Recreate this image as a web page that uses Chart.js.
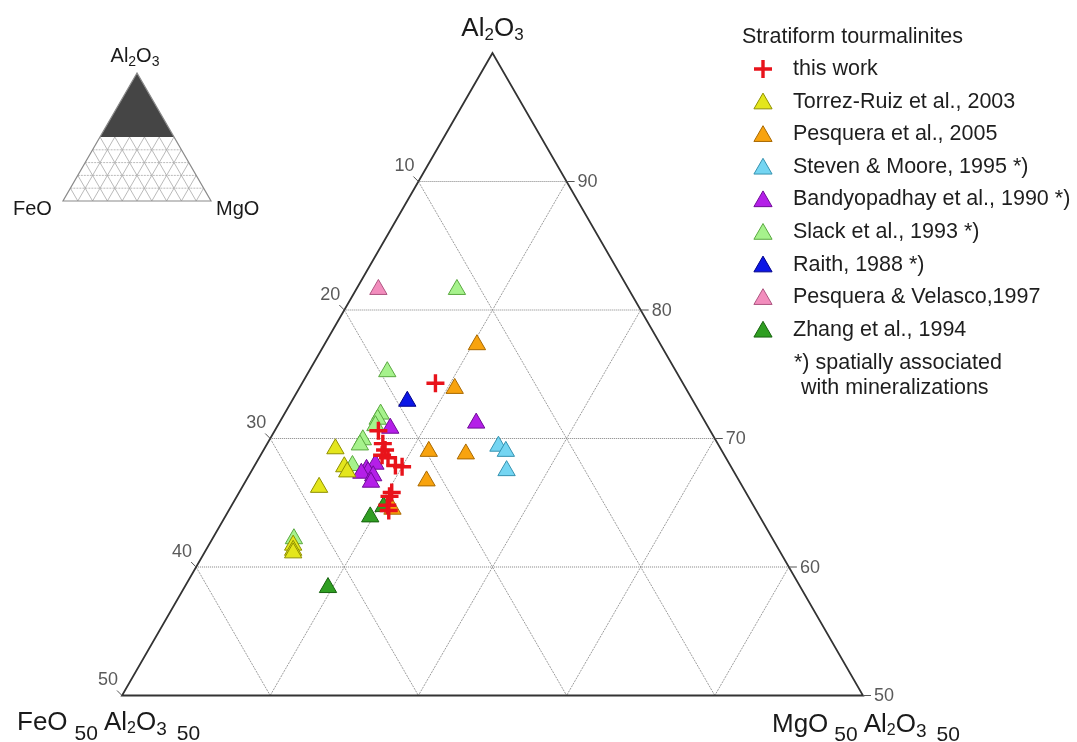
<!DOCTYPE html>
<html>
<head>
<meta charset="utf-8">
<script src="https://cdn.jsdelivr.net/npm/chart.js@4"></script>
<style>
  html, body { margin: 0; padding: 0; background: #fff; }
  canvas { display: block; }
</style>
</head>
<body>
<canvas id="myChart" width="1077" height="742"></canvas>
<script>
// compositions as [FeO, MgO, Al2O3]
const thisWork = [
  [16.7, 9.0, 74.3], [22.4, 7.0, 70.6], [22.6, 7.8, 69.6], [22.7, 8.2, 69.1],
  [23.1, 8.2, 68.7], [22.8, 8.7, 68.5], [22.6, 9.5, 67.9], [22.2, 10.0, 67.8],
  [23.9, 10.3, 65.8], [24.2, 10.3, 65.5], [24.7, 10.5, 64.8], [24.8, 10.8, 64.4],
];
const torrezRuiz2003 = [
  [26.0, 4.8, 69.2], [26.1, 6.1, 67.8], [26.1, 6.5, 67.4], [28.6, 5.2, 66.2],
  [32.6, 5.7, 61.7], [32.8, 5.9, 61.3], [32.9, 6.0, 61.1],
];
const pesquera2005 = [
  [12.4, 10.3, 77.3], [15.6, 10.5, 73.9], [19.8, 11.2, 69.0],
  [17.4, 13.8, 68.8], [21.1, 12.2, 66.7], [24.5, 11.0, 64.5],
];
const stevenMoore1995 = [[14.9, 15.7, 69.4], [14.6, 16.4, 69.0], [15.3, 17.2, 67.5]];
const bandyopadhay1990 = [
  [15.5, 13.3, 71.2], [21.5, 7.7, 70.8], [23.9, 8.1, 68.0], [24.7, 7.7, 67.6],
  [24.7, 7.9, 67.4], [25.2, 7.5, 67.3], [24.5, 8.4, 67.1], [24.9, 8.5, 66.6],
];
const slack1993 = [
  [11.6, 6.8, 81.6], [19.5, 5.3, 75.2], [21.6, 6.5, 71.9], [22.0, 6.5, 71.5],
  [22.4, 6.6, 71.0], [23.8, 6.3, 69.9], [24.2, 6.3, 69.5], [25.5, 6.6, 67.9],
  [32.3, 5.5, 62.2],
];
const raith1988 = [[19.3, 7.8, 72.9]];
const pesqueraVelasco1997 = [[16.9, 1.5, 81.6]];
const zhang1994 = [[25.0, 10.3, 64.7], [26.3, 9.8, 63.9], [31.9, 9.7, 58.4]];

const seriesLabels = [
  'this work', 'Torrez-Ruiz et al., 2003', 'Pesquera et al., 2005', 'Steven & Moore, 1995 *)',
  'Bandyopadhay et al., 1990 *)', 'Slack et al., 1993 *)', 'Raith, 1988 *)',
  'Pesquera & Velasco,1997', 'Zhang et al., 1994',
];
const feoTicks = [10, 20, 30, 40, 50];   // left edge
const alTicks = [90, 80, 70, 60, 50];    // right edge
const gridSteps = [10, 20, 30, 40];

const FONT = '"Liberation Sans", Arial, Helvetica, sans-serif';

// ternary -> x/y of the FeO50Al50 - MgO50Al50 - Al2O3 sub-triangle
function tern(p) {
  const s = p[0] + p[1] + p[2];
  const mg = p[1] * 100 / s, al = p[2] * 100 / s;
  return { x: mg + (al - 50) / 2, y: al - 50 };
}

function seg(ctx, a, b) {
  ctx.beginPath();
  ctx.moveTo(a[0], a[1]);
  ctx.lineTo(b[0], b[1]);
  ctx.stroke();
}

// parts: [text, size, dy, gapAfter]
function rich(ctx, x, y, parts, align) {
  let w = 0;
  parts.forEach(p => { ctx.font = p[1] + 'px ' + FONT; w += ctx.measureText(p[0]).width + (p[3] || 0); });
  let cx = align === 'center' ? x - w / 2 : x;
  ctx.textAlign = 'left';
  ctx.textBaseline = 'alphabetic';
  parts.forEach(p => {
    ctx.font = p[1] + 'px ' + FONT;
    ctx.fillText(p[0], cx, y + (p[2] || 0));
    cx += ctx.measureText(p[0]).width + (p[3] || 0);
  });
}

const ternaryFrame = {
  id: 'ternaryFrame',
  beforeDatasetsDraw(chart) {
    const ctx = chart.ctx;
    const xs = chart.scales.x, ys = chart.scales.y;
    const P = (mg, al) => {
      const t = tern([100 - mg - al, mg, al]);
      return [xs.getPixelForValue(t.x), ys.getPixelForValue(t.y)];
    };
    ctx.save();

    // diagonal grid
    ctx.strokeStyle = '#9c9c9c';
    ctx.lineWidth = 1;
    ctx.setLineDash([2, 1]);
    gridSteps.forEach(v => {
      seg(ctx, P(0, 100 - v), P(50 - v, 50));
      seg(ctx, P(v, 100 - v), P(v, 50));
    });
    // horizontal grid
    ctx.strokeStyle = '#808080';
    ctx.setLineDash([1, 1]);
    alTicks.slice(0, 4).forEach(a => seg(ctx, P(0, a), P(100 - a, a)));
    ctx.setLineDash([]);

    // frame
    const top = P(0, 100), left = P(0, 50), right = P(50, 50);
    ctx.strokeStyle = '#333';
    ctx.lineWidth = 1.8;
    ctx.beginPath();
    ctx.moveTo(top[0], top[1]);
    ctx.lineTo(left[0], left[1]);
    ctx.lineTo(right[0], right[1]);
    ctx.closePath();
    ctx.stroke();

    // ticks and tick labels
    ctx.lineWidth = 1;
    ctx.strokeStyle = '#555';
    ctx.fillStyle = '#5a5a5a';
    ctx.font = '18px ' + FONT;
    ctx.textBaseline = 'middle';
    feoTicks.forEach(f => {
      const p = P(0, 100 - f);
      seg(ctx, p, [p[0] - 5, p[1] - 5]);
      ctx.textAlign = 'right';
      ctx.fillText(String(f), p[0] - 4, p[1] - 15);
    });
    alTicks.forEach(a => {
      const p = P(100 - a, a);
      seg(ctx, p, [p[0] + 8, p[1]]);
      ctx.textAlign = 'left';
      ctx.fillText(String(a), p[0] + 11, p[1] + 1);
    });

    // apex labels
    ctx.fillStyle = '#1a1a1a';
    rich(ctx, top[0], top[1] - 17, [['Al', 26], ['2', 17, 4], ['O', 26], ['3', 17, 4]], 'center');
    rich(ctx, left[0] - 105, left[1] + 34, [
      ['FeO', 26, 0, 7], ['50', 21, 10, 6], ['Al', 26], ['2', 16, 3], ['O', 26], ['3', 19, 5, 10], ['50', 21, 10],
    ]);
    rich(ctx, right[0] - 91, right[1] + 36, [
      ['MgO', 26, 0, 6], ['50', 21, 9, 6], ['Al', 26], ['2', 16, 3], ['O', 26], ['3', 19, 5, 10], ['50', 21, 9],
    ]);
    ctx.restore();
  },
  afterDraw(chart) {
    const ctx = chart.ctx;
    ctx.save();

    // legend
    ctx.textBaseline = 'middle';
    ctx.textAlign = 'left';
    ctx.fillStyle = '#1e1e1e';
    ctx.font = '21.5px ' + FONT;
    ctx.fillText('Stratiform tourmalinites', 742, 37);
    chart.data.datasets.forEach((ds, i) => {
      const y = 69 + i * 32.6;
      ctx.fillStyle = ds.backgroundColor;
      ctx.strokeStyle = ds.borderColor;
      ctx.lineWidth = ds.borderWidth;
      Chart.helpers.drawPoint(ctx, {
        pointStyle: ds.pointStyle, rotation: 0,
        radius: ds.pointStyle === 'cross' ? 9 : 10.5, borderWidth: ds.borderWidth,
      }, 763, y + (ds.pointStyle === 'cross' ? 0 : 2));
      ctx.fillStyle = '#1e1e1e';
      ctx.font = '21.5px ' + FONT;
      ctx.fillText(ds.label, 793, y);
    });
    ctx.fillText('*) spatially associated', 794, 363);
    ctx.fillText('with mineralizations', 801, 388);

    // inset key triangle
    const T = [137, 73], L = [63, 201], R = [211, 201];
    const Q = (fe, mg, al) => [
      (T[0] * al + L[0] * fe + R[0] * mg) / 100,
      (T[1] * al + L[1] * fe + R[1] * mg) / 100,
    ];
    const mL = Q(50, 0, 50), mR = Q(0, 50, 50);
    ctx.fillStyle = '#454545';
    ctx.beginPath();
    ctx.moveTo(T[0], T[1]); ctx.lineTo(mL[0], mL[1]); ctx.lineTo(mR[0], mR[1]);
    ctx.closePath();
    ctx.fill();

    ctx.save();
    ctx.beginPath();
    ctx.moveTo(mL[0], mL[1]); ctx.lineTo(mR[0], mR[1]); ctx.lineTo(R[0], R[1]); ctx.lineTo(L[0], L[1]);
    ctx.closePath();
    ctx.clip();
    ctx.strokeStyle = '#a8a8a8';
    ctx.lineWidth = 0.8;
    for (let v = 10; v < 100; v += 10) {
      seg(ctx, Q(v, 0, 100 - v), Q(v, 100 - v, 0));
      seg(ctx, Q(0, v, 100 - v), Q(100 - v, v, 0));
    }
    ctx.setLineDash([2, 1]);
    for (let v = 10; v < 50; v += 10) seg(ctx, Q(100 - v, 0, v), Q(0, 100 - v, v));
    ctx.restore();

    ctx.strokeStyle = '#8a8a8a';
    ctx.lineWidth = 1.2;
    ctx.beginPath();
    ctx.moveTo(T[0], T[1]); ctx.lineTo(L[0], L[1]); ctx.lineTo(R[0], R[1]);
    ctx.closePath();
    ctx.stroke();

    ctx.fillStyle = '#1a1a1a';
    rich(ctx, 135, 62, [['Al', 20], ['2', 14, 4], ['O', 20], ['3', 14, 4]], 'center');
    rich(ctx, 13, 215, [['FeO', 20]]);
    rich(ctx, 216, 215, [['MgO', 20]]);
    ctx.restore();
  },
};

function triangleSet(label, data, fill, edge) {
  return {
    label: label,
    data: data.map(tern),
    pointStyle: 'triangle',
    pointRadius: 10,
    backgroundColor: fill,
    borderColor: edge,
    borderWidth: 1,
    clip: false,
  };
}

const ctx = document.getElementById('myChart').getContext('2d');
const myChart = new Chart(ctx, {
  type: 'scatter',
  data: {
    datasets: [
      {
        label: seriesLabels[0],
        data: thisWork.map(tern),
        pointStyle: 'cross',
        pointRadius: 9,
        backgroundColor: '#e8131b',
        borderColor: '#e8131b',
        borderWidth: 3.4,
        clip: false,
      },
      triangleSet(seriesLabels[1], torrezRuiz2003, '#e4e61c', '#8f9000'),
      triangleSet(seriesLabels[2], pesquera2005, '#f8a30e', '#a86800'),
      triangleSet(seriesLabels[3], stevenMoore1995, '#74d5f2', '#3592b0'),
      triangleSet(seriesLabels[4], bandyopadhay1990, '#b41fe8', '#6f0a98'),
      triangleSet(seriesLabels[5], slack1993, '#a6f28c', '#5aa840'),
      triangleSet(seriesLabels[6], raith1988, '#0b16e6', '#00008a'),
      triangleSet(seriesLabels[7], pesqueraVelasco1997, '#f28dbd', '#ae5581'),
      triangleSet(seriesLabels[8], zhang1994, '#2f9e22', '#17620f'),
    ],
  },
  options: {
    responsive: false,
    animation: false,
    layout: { padding: { left: 122, right: 214, top: 53, bottom: 46.5 } },
    scales: {
      x: { type: 'linear', min: 0, max: 50, display: false },
      y: { type: 'linear', min: 0, max: 50, display: false },
    },
    plugins: {
      legend: { display: false },
      tooltip: { enabled: false },
    },
  },
  plugins: [ternaryFrame],
});
</script>
</body>
</html>
